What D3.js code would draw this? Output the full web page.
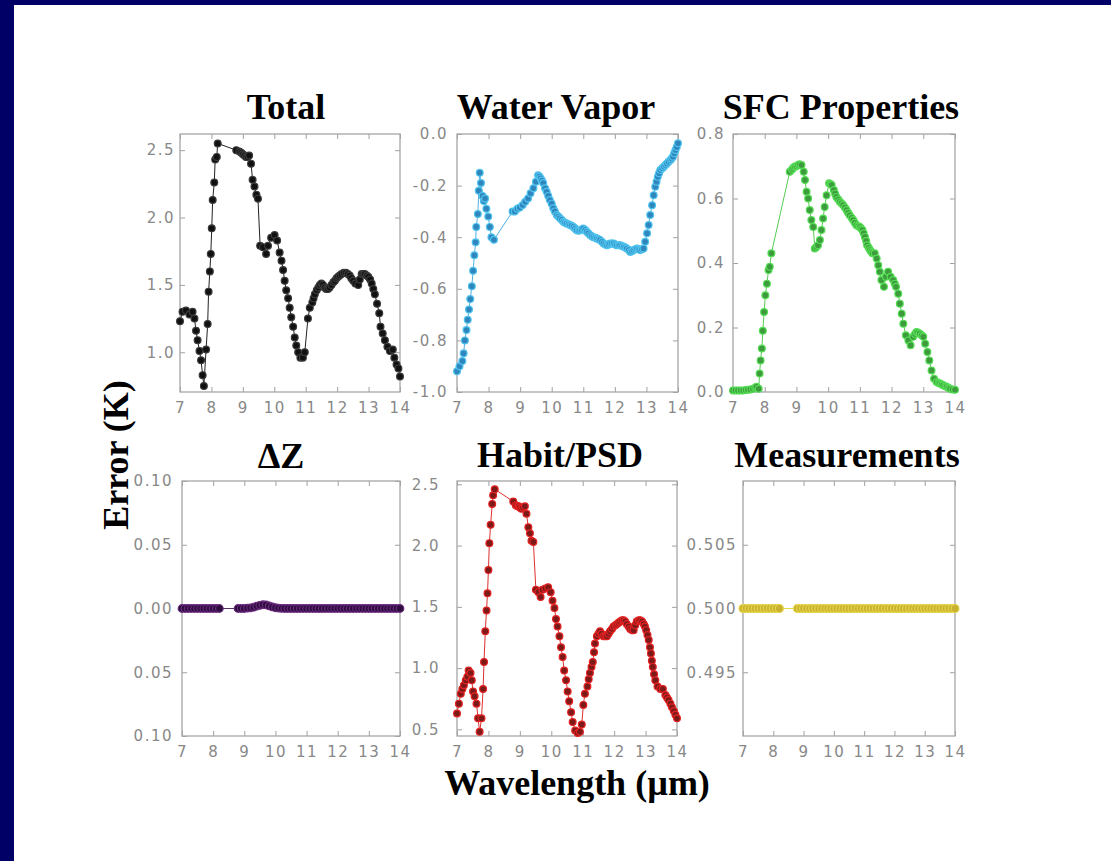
<!DOCTYPE html>
<html>
<head>
<meta charset="utf-8">
<title>Error (K) by wavelength</title>
<style>
  body { margin: 0; background: #fff; }
  svg { display: block; }
  .tick text { font-family: "DejaVu Sans", sans-serif; font-size: 15px; fill: #888; letter-spacing: 1.5px; }
  .tick line { stroke: #a0a0a0; }
  .title { font-family: "Liberation Serif", "Times New Roman", serif; font-weight: bold; font-size: 36px; fill: #000; }
</style>
</head>
<body>
<script src="https://d3js.org/d3.v7.min.js"></script>
<script>
// values: [wavelength (um), error (K)]
const totalErr = [
  [7.00,1.23],[7.08,1.30],[7.19,1.31],[7.30,1.28],[7.40,1.30],[7.46,1.25],[7.51,1.16],[7.56,1.09],
  [7.62,1.01],[7.67,0.94],[7.72,0.83],[7.76,0.75],[7.83,1.02],[7.88,1.21],[7.91,1.45],[7.95,1.60],
  [7.98,1.73],[8.01,1.92],[8.04,2.13],[8.09,2.26],[8.12,2.43],[8.17,2.45],[8.20,2.55],
  [8.79,2.50],[8.89,2.49],[8.95,2.48],[9.00,2.47],[9.05,2.46],[9.10,2.45],[9.15,2.45],[9.20,2.46],
  [9.26,2.40],[9.31,2.28],[9.37,2.23],[9.43,2.17],[9.48,2.14],[9.55,1.79],[9.64,1.78],[9.74,1.73],
  [9.80,1.79],[9.90,1.85],[10.01,1.87],[10.09,1.83],[10.17,1.74],[10.23,1.68],[10.28,1.61],[10.33,1.53],
  [10.38,1.46],[10.44,1.40],[10.49,1.33],[10.54,1.26],[10.60,1.19],[10.65,1.11],[10.70,1.05],[10.76,1.00],
  [10.83,0.96],[10.91,0.96],[10.97,1.00],[11.07,1.25],[11.13,1.33],[11.21,1.37],[11.25,1.40],[11.29,1.43],
  [11.35,1.46],[11.40,1.48],[11.45,1.50],[11.50,1.51],[11.55,1.50],[11.60,1.48],[11.65,1.47],[11.71,1.47],
  [11.76,1.48],[11.82,1.50],[11.88,1.52],[11.93,1.53],[11.98,1.55],[12.03,1.56],[12.08,1.57],[12.14,1.58],
  [12.21,1.59],[12.28,1.59],[12.34,1.58],[12.40,1.57],[12.45,1.55],[12.51,1.53],[12.58,1.51],[12.67,1.50],
  [12.72,1.54],[12.78,1.58],[12.83,1.58],[12.88,1.58],[12.94,1.57],[12.99,1.56],[13.05,1.54],[13.10,1.51],
  [13.15,1.47],[13.20,1.43],[13.27,1.36],[13.34,1.29],[13.38,1.19],[13.45,1.14],[13.52,1.09],[13.60,1.04],
  [13.68,1.01],[13.77,1.02],[13.82,0.96],[13.89,0.91],[13.95,0.88],[14.00,0.82]
];

const waterVaporErr = [
  [7.00,-0.92],[7.08,-0.90],[7.17,-0.88],[7.21,-0.85],[7.25,-0.80],[7.30,-0.76],[7.34,-0.72],[7.38,-0.68],
  [7.42,-0.64],[7.47,-0.59],[7.51,-0.53],[7.55,-0.47],[7.59,-0.42],[7.61,-0.36],[7.66,-0.31],[7.69,-0.22],
  [7.72,-0.15],[7.76,-0.19],[7.81,-0.24],[7.85,-0.26],[7.89,-0.25],[7.93,-0.29],[7.99,-0.32],[8.04,-0.36],
  [8.09,-0.40],[8.17,-0.41],
  [8.76,-0.30],[8.83,-0.30],[8.91,-0.29],[8.99,-0.285],[9.08,-0.275],[9.16,-0.263],[9.25,-0.25],[9.33,-0.23],
  [9.42,-0.21],[9.50,-0.185],[9.57,-0.16],[9.61,-0.165],[9.65,-0.172],[9.69,-0.18],[9.73,-0.19],[9.79,-0.21],
  [9.84,-0.224],[9.89,-0.24],[9.94,-0.256],[10.00,-0.27],[10.05,-0.288],[10.10,-0.30],[10.16,-0.314],
  [10.21,-0.32],[10.26,-0.327],[10.32,-0.333],[10.37,-0.34],[10.42,-0.344],[10.47,-0.347],[10.53,-0.35],
  [10.58,-0.353],[10.63,-0.356],[10.69,-0.36],[10.74,-0.366],[10.79,-0.373],[10.85,-0.375],[10.90,-0.373],
  [10.95,-0.37],[11.00,-0.366],[11.06,-0.372],[11.11,-0.379],[11.16,-0.385],[11.22,-0.392],[11.27,-0.396],
  [11.32,-0.40],[11.38,-0.402],[11.43,-0.405],[11.48,-0.408],[11.53,-0.411],[11.59,-0.418],[11.64,-0.424],
  [11.70,-0.428],[11.75,-0.431],[11.80,-0.428],[11.85,-0.424],[11.91,-0.424],[11.96,-0.424],[12.01,-0.428],
  [12.06,-0.431],[12.12,-0.431],[12.17,-0.431],[12.23,-0.434],[12.28,-0.437],[12.33,-0.44],[12.38,-0.444],
  [12.44,-0.45],[12.49,-0.457],[12.54,-0.454],[12.59,-0.45],[12.65,-0.447],[12.70,-0.444],[12.75,-0.447],
  [12.80,-0.45],[12.86,-0.447],[12.91,-0.444],[12.96,-0.418],[13.02,-0.385],[13.07,-0.353],[13.12,-0.314],
  [13.18,-0.276],[13.23,-0.237],[13.28,-0.204],[13.32,-0.185],[13.36,-0.166],[13.40,-0.152],[13.44,-0.14],
  [13.50,-0.133],[13.55,-0.127],[13.60,-0.12],[13.65,-0.114],[13.70,-0.108],[13.76,-0.101],[13.80,-0.095],
  [13.84,-0.088],[13.88,-0.075],[13.92,-0.062],[13.96,-0.05],[14.00,-0.036]
];

const sfcErr = [
  [7.00,0.005],[7.08,0.005],[7.16,0.005],[7.24,0.005],[7.32,0.005],[7.40,0.006],[7.47,0.007],[7.55,0.008],
  [7.63,0.010],[7.70,0.013],[7.74,0.016],[7.81,0.010],[7.84,0.057],[7.87,0.098],[7.91,0.135],[7.94,0.19],
  [7.98,0.248],[8.02,0.30],[8.07,0.336],[8.12,0.378],[8.16,0.388],[8.21,0.43],
  [8.79,0.683],[8.86,0.69],[8.90,0.695],[8.95,0.699],[9.00,0.70],[9.05,0.704],[9.10,0.706],[9.16,0.704],
  [9.23,0.683],[9.27,0.657],[9.32,0.621],[9.37,0.60],[9.42,0.564],[9.47,0.533],[9.53,0.512],[9.58,0.445],
  [9.63,0.45],[9.68,0.455],[9.74,0.471],[9.79,0.502],[9.84,0.538],[9.89,0.574],[9.95,0.61],[10.03,0.647],
  [10.07,0.645],[10.11,0.642],[10.18,0.626],[10.22,0.615],[10.26,0.605],[10.32,0.597],[10.37,0.59],
  [10.42,0.585],[10.47,0.58],[10.53,0.572],[10.58,0.564],[10.63,0.556],[10.68,0.548],[10.74,0.54],
  [10.79,0.533],[10.84,0.525],[10.89,0.517],[10.95,0.514],[11.00,0.512],[11.04,0.507],[11.08,0.502],
  [11.12,0.492],[11.16,0.481],[11.20,0.468],[11.23,0.455],[11.28,0.447],[11.32,0.44],[11.36,0.435],
  [11.40,0.43],[11.47,0.43],[11.53,0.414],[11.58,0.393],[11.63,0.373],[11.68,0.347],[11.76,0.326],
  [11.82,0.357],[11.89,0.373],[11.97,0.357],[12.05,0.347],[12.10,0.336],[12.14,0.326],[12.21,0.305],
  [12.26,0.274],[12.32,0.243],[12.37,0.212],[12.45,0.176],[12.53,0.16],[12.60,0.145],[12.68,0.171],
  [12.74,0.18],[12.79,0.186],[12.84,0.184],[12.89,0.181],[12.95,0.176],[13.00,0.171],[13.06,0.15],
  [13.13,0.124],[13.19,0.098],[13.26,0.067],[13.34,0.041],[13.42,0.031],[13.48,0.028],[13.53,0.026],
  [13.58,0.023],[13.63,0.021],[13.69,0.018],[13.74,0.016],[13.79,0.013],[13.84,0.010],[13.92,0.008],
  [14.00,0.007]
];

const habitErr = [
  [7.00,0.63],[7.06,0.71],[7.12,0.79],[7.17,0.83],[7.22,0.86],[7.28,0.90],[7.33,0.93],[7.37,0.98],
  [7.43,0.96],[7.47,0.90],[7.51,0.81],[7.56,0.77],[7.62,0.71],[7.67,0.59],[7.72,0.48],[7.78,0.59],
  [7.83,0.83],[7.86,1.05],[7.90,1.30],[7.94,1.47],[7.97,1.61],[8.00,1.80],[8.03,2.02],[8.07,2.17],
  [8.12,2.34],[8.15,2.41],[8.20,2.46],
  [8.79,2.36],[8.87,2.33],[8.92,2.32],[8.96,2.32],[9.00,2.31],[9.05,2.30],[9.10,2.31],[9.16,2.32],
  [9.21,2.26],[9.27,2.15],[9.32,2.10],[9.37,2.04],[9.43,2.03],[9.51,1.64],[9.59,1.62],[9.66,1.58],
  [9.72,1.64],[9.81,1.65],[9.90,1.66],[9.98,1.62],[10.04,1.55],[10.10,1.49],[10.15,1.40],[10.20,1.34],
  [10.26,1.26],[10.31,1.17],[10.36,1.09],[10.41,0.98],[10.47,0.90],[10.52,0.81],[10.57,0.73],[10.63,0.64],
  [10.68,0.56],[10.76,0.49],[10.84,0.47],[10.91,0.48],[10.97,0.54],[11.02,0.70],[11.07,0.79],[11.15,0.85],
  [11.19,0.91],[11.23,0.96],[11.28,1.01],[11.32,1.05],[11.36,1.13],[11.39,1.20],[11.45,1.26],[11.50,1.28],
  [11.55,1.30],[11.60,1.28],[11.66,1.26],[11.72,1.26],[11.77,1.26],[11.82,1.28],[11.87,1.30],[11.93,1.32],
  [11.98,1.34],[12.04,1.35],[12.09,1.36],[12.14,1.37],[12.19,1.38],[12.25,1.39],[12.30,1.39],[12.35,1.38],
  [12.40,1.36],[12.46,1.34],[12.51,1.32],[12.57,1.31],[12.62,1.31],[12.67,1.35],[12.72,1.38],[12.78,1.39],
  [12.83,1.39],[12.89,1.38],[12.94,1.36],[12.98,1.34],[13.02,1.31],[13.06,1.27],[13.10,1.23],[13.14,1.17],
  [13.17,1.12],[13.20,1.06],[13.23,1.01],[13.27,0.95],[13.31,0.90],[13.38,0.85],[13.47,0.83],[13.55,0.83],
  [13.63,0.78],[13.68,0.76],[13.73,0.74],[13.79,0.71],[13.84,0.68],[13.90,0.65],[13.95,0.62],[14.00,0.59]
];

// ΔZ and Measurements share one wavelength grid
const gridWl = [
  7.0,7.1,7.2,7.3,7.4,7.5,7.6,7.7,7.8,7.9,8.0,8.1,8.2,
  8.8,8.9,9.0,9.1,9.2,9.3,9.4,9.5,9.6,9.7,9.8,9.9,10.0,10.1,10.2,10.3,10.4,10.5,10.6,10.7,10.8,10.9,
  11.0,11.1,11.2,11.3,11.4,11.5,11.6,11.7,11.8,11.9,12.0,12.1,12.2,12.3,12.4,12.5,12.6,12.7,12.8,12.9,
  13.0,13.1,13.2,13.3,13.4,13.5,13.6,13.7,13.8,13.9,14.0
];
const dzErr = [
  0,0,0,0,0,0,0,0,0,0,0,0,0,
  0,0,0,0.0003,0.0005,0.001,0.0018,0.0025,0.003,0.0028,0.002,0.0012,0.0006,0.0003,0.0001,0,0,0,0,0,0,0,
  0,0,0,0,0,0,0,0,0,0,0,0,0,0,0,0,0,0,0,0,
  0,0,0,0,0,0,0,0,0,0,0
];
const measErr = [
  0.5,0.5,0.5,0.5,0.5,0.5,0.5,0.5,0.5,0.5,0.5,0.5,0.5,
  0.5,0.5,0.5,0.5,0.5,0.5,0.5,0.5,0.5,0.5,0.5,0.5,0.5,0.5,0.5,0.5,0.5,0.5,0.5,0.5,0.5,0.5,
  0.5,0.5,0.5,0.5,0.5,0.5,0.5,0.5,0.5,0.5,0.5,0.5,0.5,0.5,0.5,0.5,0.5,0.5,0.5,0.5,
  0.5,0.5,0.5,0.5,0.5,0.5,0.5,0.5,0.5,0.5,0.5
];

const xTicks = [7, 8, 9, 10, 11, 12, 13, 14];
const titles = ["Total", "Water Vapor", "SFC Properties", "\u0394Z", "Habit/PSD", "Measurements"];

const width = 1111, height = 861;

const svg = d3.select("body").append("svg")
    .attr("width", width)
    .attr("height", height);

svg.append("rect").attr("width", width).attr("height", height).attr("fill", "#fff");
// slide frame, left and top
svg.append("rect").attr("x", 0).attr("y", 0).attr("width", 14).attr("height", height).attr("fill", "#000066");
svg.append("rect").attr("x", 0).attr("y", 0).attr("width", width).attr("height", 5).attr("fill", "#000066");

const panels = [
  { title: titles[0], data: totalErr, x: [180, 400], y: [134, 392], yDomain: [0.705, 2.62],
    yTicks: [1.0, 1.5, 2.0, 2.5], fmt: d => d.toFixed(1), pad: 5, tx: 286, ty: 119,
    fill: "#111", stroke: "#3a3a3a", line: "#222", r: 3.4 },
  { title: titles[1], data: waterVaporErr, x: [457, 678], y: [134, 392], yDomain: [-1, 0],
    yTicks: [-1.0, -0.8, -0.6, -0.4, -0.2, 0.0], fmt: d => d.toFixed(1), pad: 9, tx: 556, ty: 119,
    fill: "#2f86bd", stroke: "#4fc3ee", line: "#4fb0e0", r: 3.4 },
  { title: titles[2], data: sfcErr, x: [733, 955], y: [134, 392], yDomain: [0, 0.8],
    yTicks: [0.0, 0.2, 0.4, 0.6, 0.8], fmt: d => d.toFixed(1), pad: 8, tx: 841, ty: 119,
    fill: "#3d9a3d", stroke: "#55dd55", line: "#55cc55", r: 3.4 },
  { title: titles[3], data: gridWl.map((w, i) => [w, dzErr[i]]), x: [182, 400], y: [481, 736], yDomain: [-0.1, 0.1],
    yTicks: [-0.1, -0.05, 0, 0.05, 0.1], fmt: d => Math.abs(d).toFixed(2), pad: 9, tx: 281, ty: 468,
    fill: "#2e0c3e", stroke: "#6a2a7e", line: "#553366", r: 3.8 },
  { title: titles[4], data: habitErr, x: [457, 677], y: [481, 736], yDomain: [0.446, 2.527],
    yTicks: [0.5, 1.0, 1.5, 2.0, 2.5], fmt: d => d.toFixed(1), pad: 17, tx: 560, ty: 467,
    fill: "#7c1a1a", stroke: "#e42222", line: "#dd3030", r: 3.4 },
  { title: titles[5], data: gridWl.map((w, i) => [w, measErr[i]]), x: [743, 955], y: [481, 736], yDomain: [0.49, 0.51],
    yTicks: [0.495, 0.5, 0.505], fmt: d => d.toFixed(3), pad: 6, tx: 847, ty: 467,
    fill: "#c9b130", stroke: "#e6d64a", line: "#e6d64a", r: 4 }
];

panels.forEach(p => {
  const x = d3.scaleLinear().domain([7, 14]).range(p.x);
  const y = d3.scaleLinear().domain(p.yDomain).range([p.y[1], p.y[0]]);
  const g = svg.append("g");

  // ticks pointing inward on all four sides
  g.append("g").attr("transform", `translate(0,${p.y[1]})`)
    .call(d3.axisBottom(x).tickValues(xTicks).tickSizeInner(-5).tickSizeOuter(0).tickPadding(10).tickFormat(d3.format("d")));
  g.append("g").attr("transform", `translate(0,${p.y[0]})`)
    .call(d3.axisTop(x).tickValues(xTicks).tickSizeInner(-5).tickSizeOuter(0).tickFormat(""));
  g.append("g").attr("transform", `translate(${p.x[0]},0)`)
    .call(d3.axisLeft(y).tickValues(p.yTicks).tickSizeInner(-5).tickSizeOuter(0).tickPadding(p.pad).tickFormat(p.fmt));
  g.append("g").attr("transform", `translate(${p.x[1]},0)`)
    .call(d3.axisRight(y).tickValues(p.yTicks).tickSizeInner(-5).tickSizeOuter(0).tickFormat(""));
  g.selectAll(".domain").remove();

  g.append("rect")
    .attr("x", p.x[0]).attr("y", p.y[0])
    .attr("width", p.x[1] - p.x[0]).attr("height", p.y[1] - p.y[0])
    .attr("fill", "none").attr("stroke", "#a6a6a6").attr("stroke-width", 1.3);

  const line = d3.line().x(d => x(d[0])).y(d => y(d[1]));
  g.append("path").datum(p.data)
    .attr("d", line)
    .attr("fill", "none")
    .attr("stroke", p.line)
    .attr("stroke-width", 1);

  g.selectAll("circle").data(p.data).join("circle")
    .attr("cx", d => x(d[0]))
    .attr("cy", d => y(d[1]))
    .attr("r", p.r)
    .attr("fill", p.fill)
    .attr("stroke", p.stroke)
    .attr("stroke-width", 1.2);

  svg.append("text").attr("class", "title")
    .attr("x", p.tx).attr("y", p.ty)
    .attr("text-anchor", "middle")
    .text(p.title);
});

svg.append("text").attr("class", "title")
  .attr("x", 577).attr("y", 795)
  .attr("text-anchor", "middle")
  .text("Wavelength (\u00b5m)");

svg.append("text").attr("class", "title")
  .attr("transform", "translate(128,455) rotate(-90)")
  .attr("text-anchor", "middle")
  .text("Error (K)");
</script>
</body>
</html>
